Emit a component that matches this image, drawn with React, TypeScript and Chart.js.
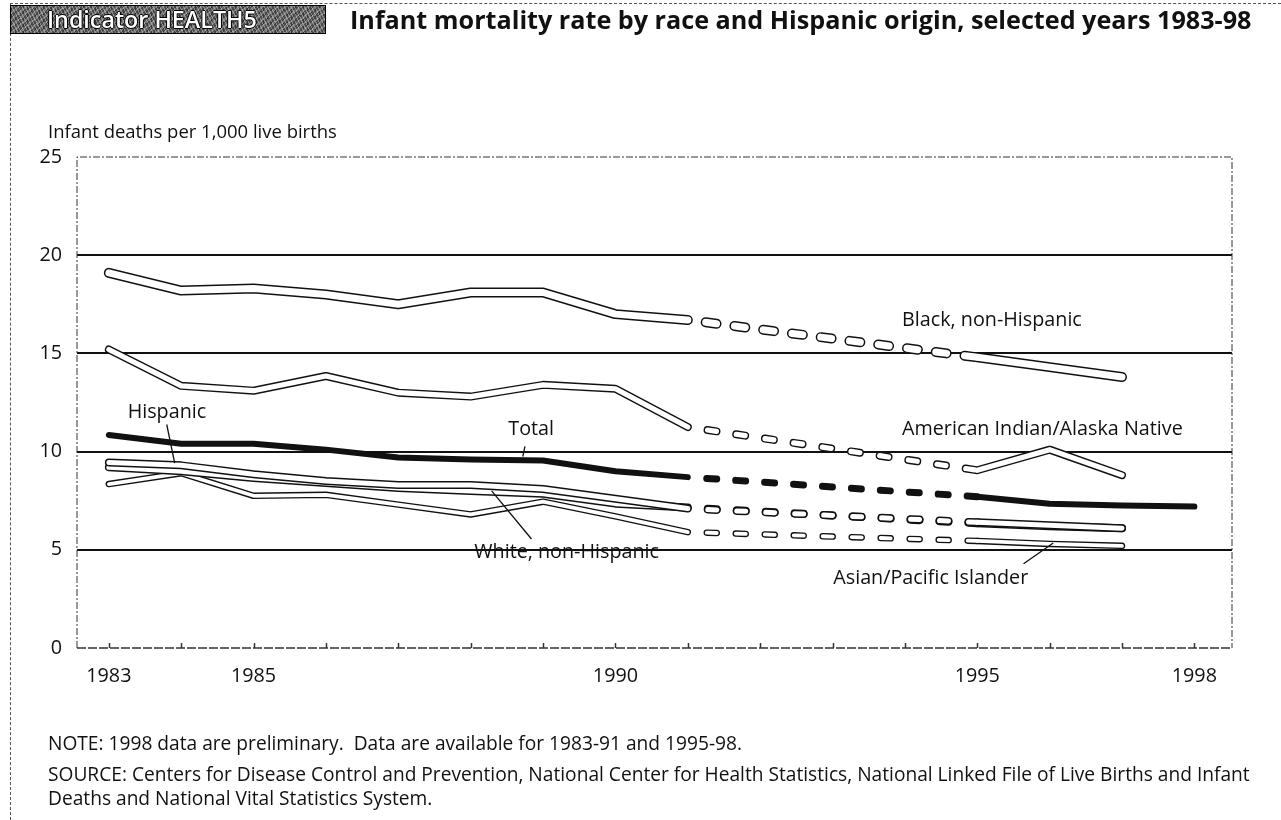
import React, { useEffect, useLayoutEffect, useRef } from "react";
import { Chart, registerables } from "chart.js";

Chart.register(...registerables);

// ---------------- data ----------------
const years = [1983, 1984, 1985, 1986, 1987, 1988, 1989, 1990, 1991, 1995, 1996, 1997];
const totalYears = [1983, 1984, 1985, 1986, 1987, 1988, 1989, 1990, 1991, 1995, 1996, 1997, 1998];
const blackNonHispanic = [19.1, 18.2, 18.3, 18.0, 17.5, 18.1, 18.1, 17.0, 16.7, 14.8, 14.3, 13.8];
const americanIndian = [15.2, 13.35, 13.1, 13.85, 13.0, 12.8, 13.4, 13.2, 11.25, 9.05, 10.1, 8.8];
const total = [10.85, 10.4, 10.4, 10.1, 9.7, 9.6, 9.55, 9.0, 8.7, 7.7, 7.35, 7.25, 7.2];
const hispanic = [9.45, 9.3, 8.85, 8.5, 8.3, 8.3, 8.1, 7.6, 7.1, 6.4, 6.25, 6.1];
const whiteNonHispanic = [9.2, 9.0, 8.65, 8.4, 8.15, 8.0, 7.85, 7.35, 7.15, 6.35, 6.2, 6.1];
const asianPacific = [8.35, 8.9, 7.75, 7.8, 7.3, 6.8, 7.45, 6.7, 5.9, 5.45, 5.3, 5.2];

const xTickYears = [1983, 1984, 1985, 1986, 1987, 1988, 1989, 1990, 1991, 1992, 1993, 1994, 1995, 1996, 1997, 1998];
const labelledYears = [1983, 1985, 1990, 1995, 1998];
const yStep = 5;
const yMin = 0;
const yMax = 25;

const titleText = "Infant mortality rate by race and Hispanic origin, selected years 1983-98";
const indicatorText = "Indicator HEALTH5";
const yAxisTitle = "Infant deaths per 1,000 live births";
const noteText = "NOTE: 1998 data are preliminary.  Data are available for 1983-91 and 1995-98.";
const sourceLine1 =
  "SOURCE: Centers for Disease Control and Prevention, National Center for Health Statistics, National Linked File of Live Births and Infant";
const sourceLine2 = "Deaths and National Vital Statistics System.";

// series labels drawn in the plot (positions in data units)
const seriesLabels = [
  { text: "Black, non-Hispanic", x: 1993.96, y: 16.7 },
  { text: "American Indian/Alaska Native", x: 1993.96, y: 11.13 },
  { text: "Hispanic", x: 1983.26, y: 12.0 },
  { text: "Total", x: 1988.52, y: 11.15 },
  { text: "White, non-Hispanic", x: 1988.05, y: 4.85 },
  { text: "Asian/Pacific Islander", x: 1993.01, y: 3.53 },
];
const leaderLines = [
  { x1: 1983.8, y1: 11.38, x2: 1983.91, y2: 9.41 },
  { x1: 1988.75, y1: 10.27, x2: 1988.72, y2: 9.75 },
  { x1: 1988.84, y1: 5.55, x2: 1988.29, y2: 8.0 },
  { x1: 1995.64, y1: 4.29, x2: 1996.05, y2: 5.35 },
];

const FONT = '"Open Sans", "Noto Sans", sans-serif';
const INK = "#111";

// ---------------- helpers ----------------
const points = (xs: number[], vs: number[]) => vs.map((v, i) => ({ x: xs[i], y: v }));
const isGap = (ctx: any) => ctx.p1.parsed.x - ctx.p0.parsed.x > 1;

function hollowSeries(
  label: string,
  xs: number[],
  vs: number[],
  outer: number,
  inner: number,
  dash: number[],
  order: number
) {
  const seg = {
    borderDash: (ctx: any) => (isGap(ctx) ? dash : undefined),
    borderDashOffset: (ctx: any) => (isGap(ctx) ? dash[0] : undefined),
  };
  const common = {
    data: points(xs, vs),
    pointRadius: 0,
    pointHoverRadius: 0,
    fill: false,
    tension: 0,
    borderCapStyle: "round",
    borderJoinStyle: "round",
    segment: seg,
  };
  return [
    { ...common, label: label + " outline", borderColor: INK, borderWidth: outer, order: order + 1 },
    { ...common, label, borderColor: "#ffffff", borderWidth: inner, order },
  ];
}

const framePlugin = {
  id: "frame",
  beforeDatasetsDraw(chart: any) {
    const { ctx, chartArea: a, scales } = chart;
    ctx.save();
    ctx.strokeStyle = "#333";
    ctx.lineWidth = 1;
    ctx.setLineDash([7, 2, 2, 2]);
    ctx.beginPath();
    ctx.moveTo(a.left, a.bottom);
    ctx.lineTo(a.left, a.top);
    ctx.lineTo(a.right, a.top);
    ctx.lineTo(a.right, a.bottom);
    ctx.stroke();
    ctx.setLineDash([9, 2]);
    ctx.lineWidth = 1.3;
    ctx.beginPath();
    ctx.moveTo(a.left, a.bottom);
    ctx.lineTo(a.right, a.bottom);
    ctx.stroke();
    ctx.setLineDash([]);
    ctx.lineWidth = 1.5;
    const xs = scales.x;
    ctx.beginPath();
    for (const t of xs.ticks) {
      const px = Math.round(xs.getPixelForValue(t.value)) + 0.5;
      ctx.moveTo(px, a.bottom);
      ctx.lineTo(px, a.bottom - 5);
    }
    ctx.stroke();
    ctx.restore();
  },
};

function makeLabelPlugin(fontSize: number) {
  return {
    id: "seriesLabels",
    afterDatasetsDraw(chart: any) {
      const { ctx, scales } = chart;
      const { x, y } = scales;
      ctx.save();
      ctx.fillStyle = INK;
      ctx.font = `${fontSize}px ${FONT}`;
      ctx.textAlign = "left";
      ctx.textBaseline = "middle";
      for (const l of seriesLabels) {
        ctx.fillText(l.text, x.getPixelForValue(l.x), y.getPixelForValue(l.y));
      }
      ctx.strokeStyle = INK;
      ctx.lineWidth = 1.3;
      ctx.beginPath();
      for (const l of leaderLines) {
        ctx.moveTo(x.getPixelForValue(l.x1), y.getPixelForValue(l.y1));
        ctx.lineTo(x.getPixelForValue(l.x2), y.getPixelForValue(l.y2));
      }
      ctx.stroke();
      ctx.restore();
    },
  };
}

// ---------------- HTML text fitted to a target width ----------------
const textStyle = (left: number, cy: number, extra?: any) => ({
  position: "absolute" as const,
  left,
  top: cy,
  transform: "translateY(-50%)",
  whiteSpace: "pre" as const,
  lineHeight: 1,
  fontFamily: FONT,
  color: INK,
  ...(extra || {}),
});

function FitText(props: { text: string; left: number; cy: number; width: number; style?: any }) {
  const ref = useRef<HTMLSpanElement>(null);
  useLayoutEffect(() => {
    const el = ref.current;
    if (!el) return;
    el.style.fontSize = "20px";
    const w = el.getBoundingClientRect().width;
    if (w > 0) el.style.fontSize = (20 * props.width) / w + "px";
  }, [props.text, props.width]);
  return (
    <span ref={ref} style={textStyle(props.left, props.cy, props.style)}>
      {props.text}
    </span>
  );
}

// notes: all three lines share the size that makes the long source line fit
function Notes() {
  const r1 = useRef<HTMLSpanElement>(null);
  const r2 = useRef<HTMLSpanElement>(null);
  const r3 = useRef<HTMLSpanElement>(null);
  useLayoutEffect(() => {
    const el = r2.current;
    if (!el) return;
    el.style.fontSize = "20px";
    const w = el.getBoundingClientRect().width;
    const size = w > 0 ? (20 * 1203) / w : 16;
    for (const r of [r1, r2, r3]) if (r.current) r.current.style.fontSize = size + "px";
  }, []);
  return (
    <>
      <span ref={r1} style={textStyle(48, 744)}>
        {noteText}
      </span>
      <span ref={r2} style={textStyle(48, 775)}>
        {sourceLine1}
      </span>
      <span ref={r3} style={textStyle(48, 799)}>
        {sourceLine2}
      </span>
    </>
  );
}

export default function App() {
  const canvasRef = useRef<HTMLCanvasElement>(null);

  useEffect(() => {
    document.body.style.margin = "0";
    const canvas = canvasRef.current;
    if (!canvas) return;
    const c2 = canvas.getContext("2d")!;
    c2.font = `16px ${FONT}`;
    const m = c2.measureText("American Indian/Alaska Native").width;
    const labelSize = m > 0 ? (16 * 281) / m : 16;

    const datasets: any[] = [
      ...hollowSeries("American Indian/Alaska Native", years, americanIndian, 8, 5.2, [9, 20], 10),
      ...hollowSeries("Black, non-Hispanic", years, blackNonHispanic, 10, 7, [11, 18], 8),
      ...hollowSeries("Asian/Pacific Islander", years, asianPacific, 6.5, 3.8, [10, 19], 6),
      ...hollowSeries("White, non-Hispanic", years, whiteNonHispanic, 8, 5, [9, 20], 4),
      ...hollowSeries("Hispanic", years, hispanic, 8, 5, [9, 20], 2),
      {
        label: "Total",
        data: points(totalYears, total),
        borderColor: INK,
        borderWidth: 6,
        pointRadius: 0,
        pointHoverRadius: 0,
        fill: false,
        tension: 0,
        borderCapStyle: "round",
        borderJoinStyle: "round",
        order: 0,
        segment: {
          borderDash: (ctx: any) => (isGap(ctx) ? [10, 19] : undefined),
          borderDashOffset: (ctx: any) => (isGap(ctx) ? 10 : undefined),
          borderWidth: (ctx: any) => (isGap(ctx) ? 7 : undefined),
        },
      },
    ];

    const chart = new Chart(canvas, {
      type: "line",
      data: { datasets },
      plugins: [framePlugin, makeLabelPlugin(labelSize)],
      options: {
        responsive: false,
        devicePixelRatio: 1,
        animation: false,
        events: [],
        layout: { padding: { top: 157, right: 49, bottom: 112, left: 0 } },
        plugins: { legend: { display: false }, tooltip: { enabled: false }, title: { display: false } },
        scales: {
          x: {
            type: "linear",
            min: 1982.56,
            max: 1998.52,
            afterBuildTicks: (s: any) => {
              s.ticks = xTickYears.map((v) => ({ value: v }));
            },
            afterFit: (s: any) => {
              s.height = 60;
            },
            grid: { display: false, drawTicks: false },
            border: { display: false },
            ticks: {
              autoSkip: false,
              maxRotation: 0,
              minRotation: 0,
              padding: 17,
              color: INK,
              font: { family: FONT, size: labelSize },
              callback: (v: any) => (labelledYears.includes(Number(v)) ? String(v) : ""),
            },
          },
          y: {
            type: "linear",
            min: yMin,
            max: yMax,
            afterFit: (s: any) => {
              s.width = 77;
            },
            grid: {
              drawTicks: false,
              lineWidth: 2,
              color: (ctx: any) =>
                ctx.tick && (ctx.tick.value === yMin || ctx.tick.value === yMax) ? "rgba(0,0,0,0)" : INK,
            },
            border: { display: false },
            ticks: {
              stepSize: yStep,
              padding: 15,
              color: INK,
              font: { family: FONT, size: labelSize },
            },
          },
        },
      },
    } as any);
    return () => chart.destroy();
  }, []);

  return (
    <div
      style={{
        position: "fixed",
        left: 0,
        top: 0,
        width: 1281,
        height: 820,
        background: "#fff",
        overflow: "hidden",
      }}
    >
      <canvas
        ref={canvasRef}
        width={1281}
        height={820}
        style={{ position: "absolute", left: 0, top: 0, width: 1281, height: 820 }}
      />
      {/* page frame */}
      <div style={{ position: "absolute", left: 10, top: 3, right: 0, borderTop: "1px dashed #555" }} />
      <div style={{ position: "absolute", left: 10, top: 3, bottom: 0, borderLeft: "1px dashed #555" }} />
      {/* indicator box */}
      <div
        style={{
          position: "absolute",
          left: 10,
          top: 5,
          width: 316,
          height: 29,
          boxSizing: "border-box",
          border: "1px solid #000",
          background:
            "repeating-linear-gradient(63deg, rgba(255,255,255,0.35) 0 1px, rgba(0,0,0,0) 1px 3px), repeating-linear-gradient(-41deg, rgba(255,255,255,0.25) 0 2px, rgba(0,0,0,0) 2px 5px), repeating-linear-gradient(90deg, rgba(0,0,0,0.25) 0 1px, rgba(0,0,0,0) 1px 4px), #4a4a4a",
        }}
      />
      <FitText
        text={indicatorText}
        left={47}
        cy={20}
        width={210}
        style={{
          color: "#fff",
          fontWeight: 600,
          textShadow: "1px 0 0 #000, -1px 0 0 #000, 0 1px 0 #000, 0 -1px 0 #000",
        }}
      />
      <FitText text={titleText} left={350} cy={20} width={902} style={{ fontWeight: 700 }} />
      <FitText text={yAxisTitle} left={48} cy={131} width={289} />
      <Notes />
    </div>
  );
}
